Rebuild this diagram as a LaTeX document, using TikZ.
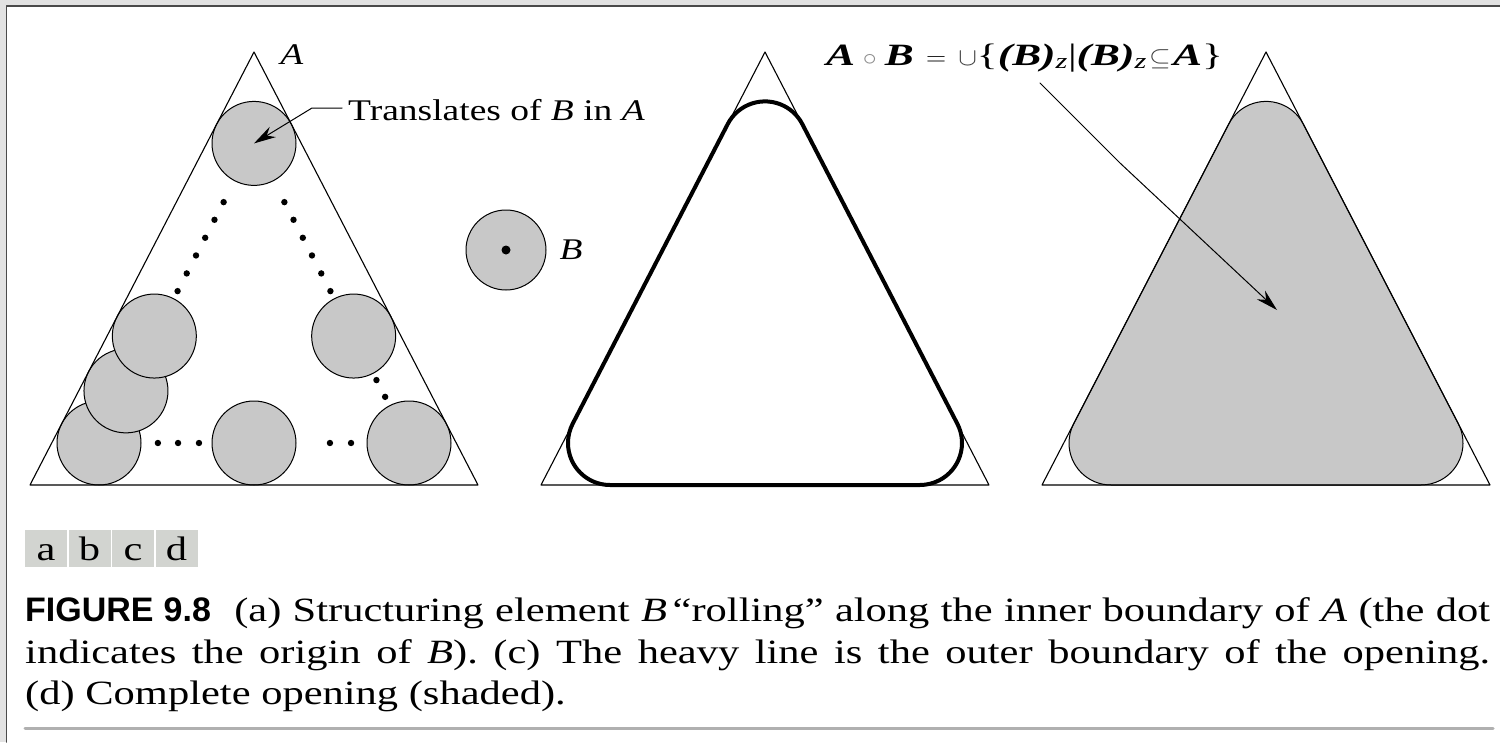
\documentclass[tikz,border=0pt]{standalone}
\usepackage{fontspec}
\setmainfont[FakeStretch=1.25]{Liberation Serif}
\setsansfont{Liberation Sans}
\usetikzlibrary{arrows.meta,calc,positioning}
\definecolor{figDisk}{HTML}{C8C8C8}
\definecolor{figFrame}{HTML}{E2E2E2}
\definecolor{figFrameLine}{HTML}{4A4A4A}
\definecolor{figRule}{HTML}{B0B0B0}
\definecolor{figTag}{HTML}{D2D4D0}
\newcommand{\bvar}[1]{\textbf{\textit{#1}}}

\begin{document}
\begin{tikzpicture}[x=1pt,y=-1pt,>=Stealth,line cap=round,line join=round]
\useasboundingbox (0,0) rectangle (1500,742);
\fill[figFrame] (0,0) rectangle (1500,742);
\fill[white] (6.5,6) rectangle (1500,742);
\draw[figFrameLine,line width=1.6pt] (1500,6) -- (6.5,6) -- (6.5,742);
\tikzset{thinline/.style={draw=black,line width=1.1pt},heavy/.style={draw=black,line width=4pt},disk/.style={circle,draw=black,fill=figDisk,line width=1pt,minimum size=84pt,inner sep=0pt},leader/.style={draw=black,line width=1pt,-{Stealth[length=22pt,width=12pt]}},labtext/.style={inner sep=0pt,font=\fontsize{30}{36}\selectfont},captext/.style={anchor=base west,inner sep=0pt,font=\fontsize{34}{40}\selectfont},tagcell/.style={fill=figTag,minimum width=42pt,minimum height=37pt,inner sep=0pt,text height=24pt,text depth=0pt,font=\fontsize{34}{40}\selectfont},opening/.style={insert path={(-37.3,72.1) arc[start angle=207.35,end angle=332.65,radius=42] -- (192.3,371.7) arc[start angle=-27.35,end angle=90,radius=42] -- (-155,433) arc[start angle=90,end angle=207.35,radius=42] -- cycle}}}
% (a) translates of B inside A
\node[disk] (ta) at (254,143.4) {};
\node[disk] (bl) at (99,443) {};
\node[disk] (bm) at (254,443) {};
\node[disk] (br) at (409,443) {};
\node[disk] (ml) at ($(ta)!0.826!(bl)$) {};
\node[disk] (ul) at ($(ta)!0.643!(bl)$) {};
\node[disk] (ur) at ($(ta)!0.643!(br)$) {};
\foreach \fr in {0.196,0.255,0.315,0.374,0.434,0.493} {\fill ($(ta)!\fr!(bl)$) circle (3.2); \fill ($(ta)!\fr!(br)$) circle (3.2);}
\foreach \fr in {0.79,0.846} \fill ($(ta)!\fr!(br)$) circle (3.2);
\foreach \fr in {0.38,0.51,0.645} \fill ($(bl)!\fr!(bm)$) circle (3.2);
\foreach \fr in {0.49,0.626} \fill ($(bm)!\fr!(br)$) circle (3.2);
% (d) shaded opening
\begin{scope}[shift={(1266,52)}]
\filldraw[fill=figDisk,line width=1pt] [opening];
\end{scope}
\foreach \ax in {254,765,1266} \draw[thinline] (\ax-224,485) -- (\ax,52) -- (\ax+224,485) -- cycle;
% (c) heavy outer boundary
\begin{scope}[shift={(765,52)}]
\draw[heavy] [opening];
\end{scope}
% (b) structuring element
\node[disk,minimum size=80pt] (elemB) at (506,250) {};
\fill (elemB.center) circle (4.5);
\node[labtext,right=13pt of elemB] (labB) {\textit{B}};
\node[labtext] (labA) at (292,55) {\textit{A}};
\node[labtext,anchor=base west,inner sep=6pt] (trans) at (342,120) {Translates of \textit{B} in \textit{A}};
\draw[leader] ([yshift=12pt]trans.base west) -- ++(-30,0) -- (ta.center);
\node[labtext,anchor=base west,font=\fontsize{31}{36}\selectfont] (formula) at (826,65) {\scalebox{1.12}[1]{\bvar{A}\hspace{7pt}{\color{black!45}$\circ$}\hspace{7pt}\bvar{B}\hspace{11pt}$=$\hspace{11pt}{\color{black!75}$\cup$}\{\bvar{(B)}\textsubscript{\textit{z}}|\bvar{(B)}\textsubscript{\textit{z}}\hspace{2pt}{\color{black!75}$\subseteq$}\hspace{2pt}\bvar{A}\}}};
\coordinate (fknee) at (1120,163);
\coordinate (ftip) at (1277,310);
\draw[leader] ([xshift=214pt,yshift=-18pt]formula.base west) -- (fknee) -- (ftip);
% caption
\foreach \lab/\cx in {a/46,b/89.5,c/133,d/176.5} \node[tagcell] (tag-\lab) at (\cx,548.5) {\lab};
\node[captext] (capA) at (25,621) {\makebox[1465pt][s]{{\sffamily\bfseries FIGURE 9.8}\hspace{12pt} (a) Structuring element \textit{B}\,``rolling'' along the inner boundary of \textit{A} (the dot}};
\node[captext] (capB) at (25,663) {\makebox[1465pt][s]{indicates the origin of \textit{B}). (c) The heavy line is the outer boundary of the opening.}};
\node[captext] (capC) at (25,704) {(d) Complete opening (shaded).};
\draw[figRule,line width=3pt] (25,728) -- (1493,728);
\end{tikzpicture}
\end{document}
